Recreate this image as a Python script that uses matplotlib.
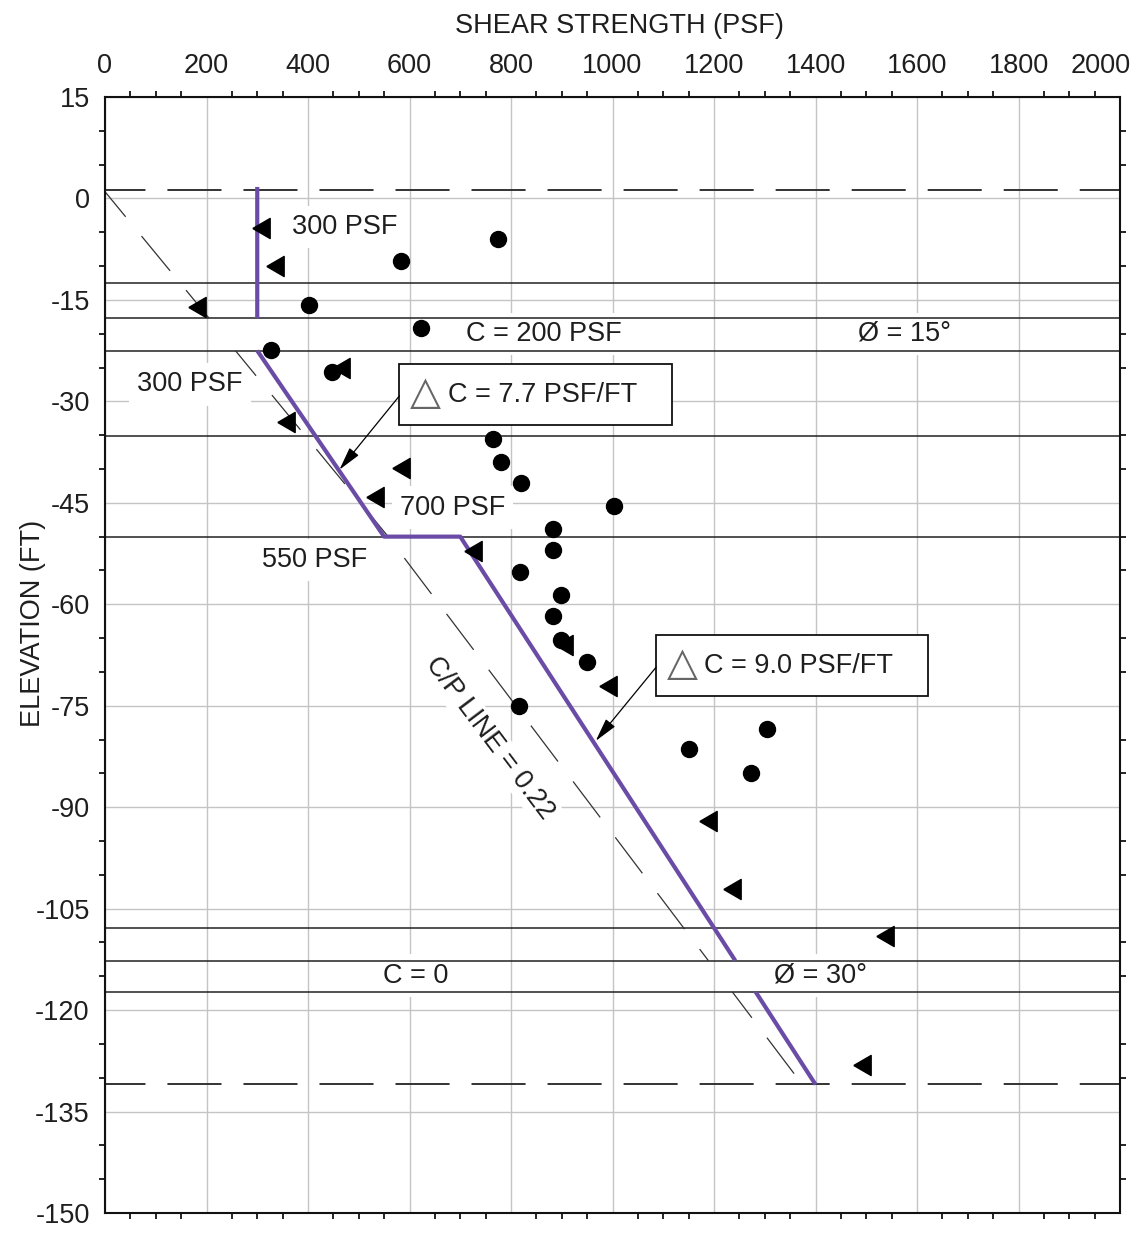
import numpy as np
import matplotlib
matplotlib.use("Agg")
import matplotlib.pyplot as plt
import matplotlib.transforms as mtransforms
from matplotlib.ticker import MultipleLocator
from matplotlib.patches import Rectangle

plt.rcParams['font.family'] = ['Liberation Sans', 'DejaVu Sans']
plt.rcParams['axes.unicode_minus'] = False

# test data (strength psf, elevation ft)
circ_x = [775, 583, 402, 623, 327, 447, 765, 780, 820, 1002, 882, 882, 818,
          898, 883, 898, 950, 816, 1150, 1305, 1273]
circ_y = [-6.0, -9.3, -15.8, -19.1, -22.4, -25.6, -35.6, -38.9, -42.1, -45.5,
          -48.8, -52.0, -55.3, -58.7, -61.8, -65.3, -68.5, -75.0, -81.4, -78.4, -85.0]

tri_x = [308, 334, 181, 465, 357, 584, 532, 725, 905, 991, 1189, 1236, 1537, 1491]
tri_y = [-4.4, -10.0, -16.1, -25.1, -33.1, -39.9, -44.1, -52.1, -66.0, -72.1,
         -92.1, -102.1, -109.1, -128.1]

# design strength profile (purple), gaps in the friction layers
design_x = [300, 300, np.nan, 300, 550, 700, 1242, np.nan, 1282, 1400]
design_y = [1.7, -17.7, np.nan, -22.5, -50.0, -50.0, -112.7, np.nan, -117.3, -131.0]

# C/P = 0.22 line
cp_x = [0, 205, np.nan, 257, 558, 1189, np.nan, 1236, 1374]
cp_y = [1.0, -17.7, np.nan, -22.5, -50.0, -112.7, np.nan, -117.3, -131.0]

# layer boundaries
solid_levels = [-12.5, -17.7, -22.5, -35.1, -50.0, -107.8, -112.7, -117.3]
dashed_levels = [1.2, -130.9]

x_ticks = list(range(0, 2001, 200))
y_ticks = list(range(15, -151, -15))

W, H = 1144, 1236
fig = plt.figure(figsize=(W / 100, H / 100), dpi=100)
ax = fig.add_axes([105 / W, 1 - 1213 / H, (1120 - 105) / W, (1213 - 97) / H])

txt_col = '#1e1e1e'
fs = 19.5

ax.set_xlim(0, 2000)
ax.set_ylim(-150, 15)
ax.set_xticks(x_ticks)
ax.set_yticks(y_ticks)
ax.xaxis.set_minor_locator(MultipleLocator(50))
ax.yaxis.set_minor_locator(MultipleLocator(5))
ax.xaxis.tick_top()
ax.tick_params(which='major', length=0, labelsize=fs, labelcolor=txt_col)
ax.tick_params(axis='x', which='major', pad=13)
ax.tick_params(axis='y', which='major', pad=11)
ax.tick_params(which='minor', length=4, width=1.2, direction='out',
               top=True, bottom=True, left=True, right=True)
ax.set_axisbelow(True)
ax.grid(True, which='major', color='#c4c4c4', lw=1.0)
for s in ax.spines.values():
    s.set_linewidth(1.5)
    s.set_color('#111111')

for lv in solid_levels:
    ax.axhline(lv, color='#222222', lw=1.1, zorder=2)
for lv in dashed_levels:
    ax.axhline(lv, color='#333333', lw=1.4, ls=(7, (27.8, 11.3)), zorder=2)

ax.plot(cp_x, cp_y, color='#333333', lw=0.9, ls=(10, (36, 20)), zorder=2.2)
ax.plot(design_x, design_y, color='#6a4ca6', lw=3.0, zorder=3,
        solid_capstyle='butt')

ax.plot(circ_x, circ_y, 'o', color='black', ms=11.5, zorder=5)
tri_marker = [(-0.43, 0), (0.43, 0.5), (0.43, -0.5), (-0.43, 0)]
ax.plot(tri_x, tri_y, ls='none', marker=tri_marker, color='black', ms=14.5, zorder=5)

wbox = dict(boxstyle='square,pad=0.3', fc='white', ec='none')
labels = [
    (368, -4.2, '300 PSF', 'left'),
    (864, -20.0, 'C = 200 PSF', 'center'),
    (1576, -20.0, 'Ø = 15°', 'center'),
    (167, -27.5, '300 PSF', 'center'),
    (685, -45.7, '700 PSF', 'center'),
    (413, -53.4, '550 PSF', 'center'),
    (613, -114.9, 'C = 0', 'center'),
    (1410, -114.9, 'Ø = 30°', 'center'),
]
for x, y, s, ha in labels:
    ax.text(x, y, s, ha=ha, va='center', fontsize=fs, color=txt_col,
            bbox=wbox, zorder=1.5)

ax.text(758, -79.8, 'C/P LINE = 0.22', rotation=-53, rotation_mode='anchor',
        ha='center', va='center', fontsize=fs, color=txt_col,
        bbox=dict(boxstyle='square,pad=0.1', fc='white', ec='none'), zorder=1.5)

# boxed increment notes with arrows
notes = [
    ((580, -33.5), 537, 631, 675, -29.0, 'C = 7.7 PSF/FT', (462, -40.1)),
    ((1086, -73.5), 536, 1137, 1180, -69.1, 'C = 9.0 PSF/FT', (967, -80.2)),
]
for (bx, by), bw, tx, cx, ty, s, tip in notes:
    ax.add_patch(Rectangle((bx, by), bw, 9.0, fc='white', ec='#111111',
                           lw=1.3, zorder=4))
    ax.text(tx, ty + 0.2, '△', family=['DejaVu Sans'], fontsize=29,
            color='#666666', ha='center', va='center', zorder=4.5)
    ax.text(cx, ty, s, fontsize=fs, color=txt_col, ha='left', va='center',
            zorder=4.5)
    ax.annotate('', xy=tip, xytext=(bx, ty - 0.2),
                arrowprops=dict(arrowstyle='-|>,head_length=0.8,head_width=0.2',
                                mutation_scale=18, lw=0.9, color='black',
                                shrinkA=0, shrinkB=0), zorder=4.5)

# last tick label is nudged left in the original
last = ax.xaxis.get_major_ticks()[-1]
for lab in (last.label1, last.label2):
    lab.set_transform(lab.get_transform() +
                      mtransforms.ScaledTranslation(-0.19, 0, fig.dpi_scale_trans))

fig.text(619 / W, 1 - 26 / H, 'SHEAR STRENGTH (PSF)', ha='center', va='center',
         fontsize=fs, color=txt_col)
fig.text(33 / W, 1 - 623 / H, 'ELEVATION (FT)', ha='center', va='center',
         rotation=90, fontsize=fs, color=txt_col)

fig.savefig('out.png', dpi=100)
